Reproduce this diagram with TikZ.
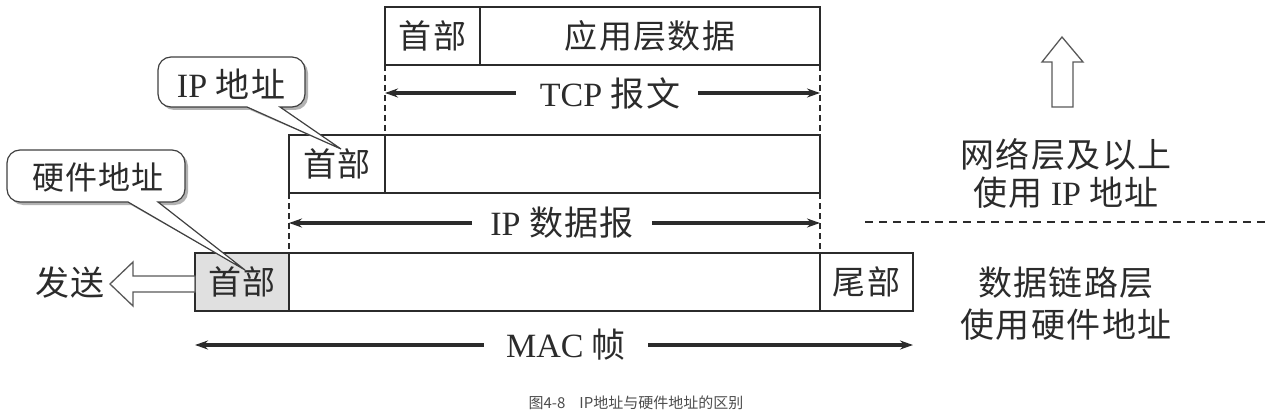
\documentclass[tikz,border=0pt]{standalone}
\usepackage{fontspec}
\setmainfont{Liberation Serif}
\newfontfamily\cjk[LetterSpace=4]{Noto Sans CJK SC}
\newfontfamily\capfont{Noto Sans CJK SC}
\usetikzlibrary{arrows.meta,calc}
\definecolor{ink}{HTML}{2B2B2B}
\begin{document}
\begin{tikzpicture}[x=1pt,y=-1pt,
  box/.style={draw=ink,line width=1.4pt,minimum height=58pt,inner sep=0pt,outer sep=0pt,anchor=north west,text=ink,font=\fontsize{33}{36}\selectfont\cjk},
  lbl/.style={text=ink,font=\fontsize{34}{38}\selectfont,inner sep=0pt},
  clbl/.style={text=ink,font=\fontsize{34}{38}\selectfont\cjk,inner sep=0pt},
  dimline/.style={draw=ink,line width=3.2pt,-{Stealth[length=13pt,width=9pt]}},
  vdash/.style={draw=ink,line width=1.2pt,dash pattern=on 6pt off 4pt},
  hollow/.style={draw=black!65,line width=1.3pt,fill=white,line join=miter},
  bubble/.style={draw=black!75,line width=1.2pt,fill=white},
  bshadow/.style={fill=black!30},
]
\useasboundingbox (0,0) rectangle (1273,417);

% TCP segment
\node[box,minimum width=95pt] (tcph) at (385,7) {首部};
\node[box,minimum width=340pt] (tcpd) at (480,7) {应用层数据};
% IP datagram
\node[box,minimum width=96pt] (iph) at (289,135) {首部};
\node[box,minimum width=435pt] (ipd) at (385,135) {};
% MAC frame
\node[box,minimum width=94pt,fill=black!12] (mach) at (195,253) {首部};
\node[box,minimum width=531pt] (macd) at (289,253) {};
\node[box,minimum width=93pt] (mact) at (820,253) {尾部};

% dashed guides
\draw[vdash] (tcph.south west) -- (ipd.north west);
\draw[vdash] (tcpd.south east) -- (ipd.north east);
\draw[vdash] (iph.south west) -- (macd.north west);
\draw[vdash] (ipd.south east) -- (mact.north west);

% dimension arrows
\node[lbl] (tcpl) at (610,93) {TCP {\cjk 报文}};
\draw[dimline] ($(tcpl.west)+(-24,0)$) -- (tcph.south west |- tcpl);
\draw[dimline] ($(tcpl.east)+(18,0)$) -- (tcpd.south east |- tcpl);
\node[lbl] (ipl) at (562,223) {IP {\cjk 数据报}};
\draw[dimline] ($(ipl.west)+(-18,0)$) -- (iph.south west |- ipl);
\draw[dimline] ($(ipl.east)+(18,0)$) -- (ipd.south east |- ipl);
\node[lbl] (macl) at (566,345) {MAC {\cjk 帧}};
\draw[dimline] ($(macl.west)+(-22,0)$) -- (mach.south west |- macl);
\draw[dimline] ($(macl.east)+(22,0)$) -- (mact.south east |- macl);

% send arrow
\node[clbl] (send) at (70,283) {发送};
\coordinate (stip) at (110,284);
\draw[hollow] (stip) -- ++(23,-22) -- ++(0,14) -- (mach.west |- 0,276) -- (mach.west |- 0,292) -- (133,292) -- (133,306) -- cycle;

% callout: IP address
\coordinate (iptip) at ($(iph.north west)+(52,14)$);
\begin{scope}[shift={(3,3)}]
\fill[bshadow] (iptip) -- (280,107) [rounded corners=13pt] -- (305,107) -- (305,57) -- (158,57) -- (158,107) [sharp corners] -- (247,107) -- cycle;
\end{scope}
\draw[bubble] (iptip) -- (280,107) [rounded corners=13pt] -- (305,107) -- (305,57) -- (158,57) -- (158,107) [sharp corners] -- (247,107) -- cycle;
\node[lbl] (ipc) at (231,84) {IP {\cjk 地址}};

% callout: hardware address
\coordinate (hwtip) at ($(mach.north west)+(50,17)$);
\begin{scope}[shift={(3,3)}]
\fill[bshadow] (hwtip) -- (158,202) [rounded corners=13pt] -- (185,202) -- (185,150) -- (7,150) -- (7,202) [sharp corners] -- (128,202) -- cycle;
\end{scope}
\draw[bubble] (hwtip) -- (158,202) [rounded corners=13pt] -- (185,202) -- (185,150) -- (7,150) -- (7,202) [sharp corners] -- (128,202) -- cycle;
\node[clbl,font=\fontsize{32}{36}\selectfont\cjk] (hwc) at (98,177) {硬件地址};

% up arrow
\coordinate (utip) at (1062,37);
\draw[hollow] (utip) -- (1083,62) -- (1073,62) -- (1073,107) -- (1052,107) -- (1052,62) -- (1042,62) -- cycle;

% right side labels
\node[clbl] (r1) at (1066,155) {网络层及以上};
\node[lbl] (r2) at (1066,193) {{\cjk 使用} IP {\cjk 地址}};
\coordinate (sepl) at (865,222);
\coordinate (sepr) at (1265,222);
\draw[draw=ink,line width=1.5pt,dash pattern=on 8pt off 6pt] (sepl) -- (sepr);
\node[clbl] (r3) at (1066,283) {数据链路层};
\node[clbl] (r4) at (1066,325) {使用硬件地址};

% caption
\node[text=black!70,font=\fontsize{15}{17}\selectfont\capfont,inner sep=0pt] (cap) at (636,403) {图4-8\hspace{14pt}IP地址与硬件地址的区别};
\end{tikzpicture}
\end{document}
